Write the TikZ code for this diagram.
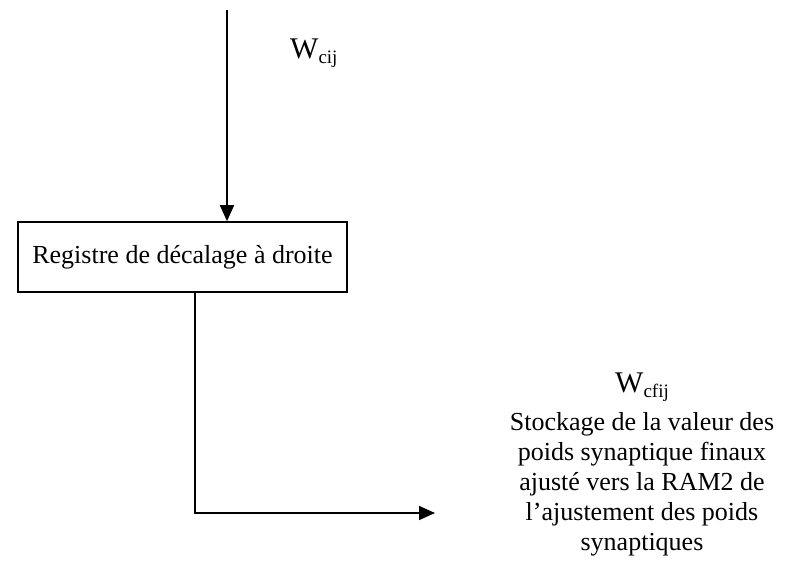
\documentclass[tikz,border=0pt]{standalone}
\usepackage{fontspec}
\setmainfont{Liberation Serif}
\usetikzlibrary{arrows.meta}
\newcommand{\wsub}[1]{{\fontsize{30}{30}\selectfont W}\raisebox{-5pt}{\fontsize{19}{22}\selectfont #1}}
\begin{document}
\begin{tikzpicture}[x=1pt,y=-1pt,
  arr/.style={line width=1.6pt,-{Triangle[length=16pt,width=14pt]}},
  txt/.style={font=\fontsize{26}{30}\selectfont, inner sep=0pt}]
\useasboundingbox (0,0) rectangle (787,563);
\node[draw, line width=1.6pt, minimum width=329pt, minimum height=70pt, inner sep=0pt,
      font=\fontsize{26}{30}\selectfont] (reg) at (182.5,257) {Registre de décalage à droite};
\coordinate (top) at (227,10);
\draw[arr] (top) -- (reg.north -| top);
\coordinate (c) at (195,513);
\coordinate (tip) at (435,513);
\draw[arr] (reg.south -| c) -- (c) -- (tip);
\node[txt, anchor=base west] (w1) at (290,58) {\wsub{cij}};
\node[txt, align=center, anchor=north] (w2) at (642,373) {\wsub{cfij}\\[8pt] Stockage de la valeur des\\poids synaptique  finaux\\ ajusté vers la RAM2 de\\ l’ajustement des poids\\ synaptiques};
\end{tikzpicture}
\end{document}
